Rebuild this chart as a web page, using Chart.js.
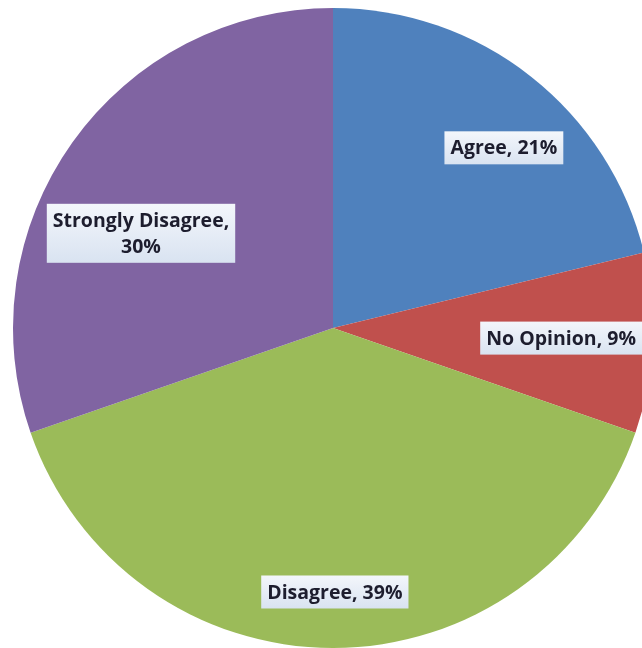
<!DOCTYPE html>
<html>
<head>
<meta charset="utf-8">
<script src="https://cdn.jsdelivr.net/npm/chart.js@4.4.1/dist/chart.umd.min.js"></script>
<style>
	html, body { margin: 0; padding: 0; background: #ffffff; overflow: hidden; }
	#wrap { width: 642px; height: 648px; overflow: hidden; position: relative; }
	#pie { position: absolute; left: 0; top: 0; }
</style>
</head>
<body>
<div id="wrap"><canvas id="pie" width="666" height="656"></canvas></div>
<script>
(() => {
	'use strict'

	// Survey answers, in drawing order (clockwise from 12 o'clock)
	const answers = ['Agree', 'No Opinion', 'Disagree', 'Strongly Disagree'];
	const shares = [21, 9, 39, 30];
	const sliceColors = ['#4f81bd', '#c0504d', '#9bbb59', '#8064a2'];

	// Where each data label sits: [fraction of radius, angle shift in degrees]
	const labelPlacement = [[0.776, 5.3], [0.716, -0.2], [0.825, -0.4], [0.669, -9.2]];

	const labelFont = 'bold 19.5px "Open Sans", sans-serif';
	const maxLabelWidth = 200;

	// Draws Excel-style label boxes on top of the slices
	const boxLabels = {
		id: 'boxLabels',
		afterDatasetsDraw(chart) {
			const ctx = chart.ctx;
			const meta = chart.getDatasetMeta(0);
			const viewW = window.innerWidth || 642;
			ctx.save();
			ctx.font = labelFont;
			ctx.textAlign = 'center';
			ctx.textBaseline = 'middle';
			meta.data.forEach((arc, i) => {
				const p = arc.getProps(['x', 'y', 'startAngle', 'endAngle', 'outerRadius'], true);
				const [frac, shift] = labelPlacement[i];
				const mid = (p.startAngle + p.endAngle) / 2 + shift * Math.PI / 180;
				let cx = p.x + Math.cos(mid) * p.outerRadius * frac;
				const cy = p.y + Math.sin(mid) * p.outerRadius * frac;

				let lines = [answers[i] + ', ' + shares[i] + '%'];
				if (ctx.measureText(lines[0]).width > maxLabelWidth) {
					lines = [answers[i] + ',', shares[i] + '%'];
				}
				const lineH = 26;
				const textW = Math.max(...lines.map(l => ctx.measureText(l).width));
				const boxW = textW + 12;
				const boxH = lines.length * lineH + 7;
				cx = Math.min(cx, viewW - boxW / 2);
				const bx = cx - boxW / 2;
				const by = cy - boxH / 2;

				const grad = ctx.createLinearGradient(0, by, 0, by + boxH);
				grad.addColorStop(0, '#f3f6fb');
				grad.addColorStop(1, '#d9e3f1');
				ctx.fillStyle = grad;
				ctx.fillRect(bx, by, boxW, boxH);

				ctx.fillStyle = '#1d1d2e';
				lines.forEach((l, k) => {
					ctx.fillText(l, cx, by + 3.5 + lineH / 2 + k * lineH + 1);
				});
			});
			ctx.restore();
		}
	};

	const pieCanvas = document.getElementById('pie');

	const dataPie = {
		labels: answers,
		datasets: [{
			data: shares,
			backgroundColor: sliceColors,
			borderWidth: 0
		}]
	};

	const configPie = {
		type: 'pie',
		data: dataPie,
		options: {
			responsive: false,
			animation: false,
			layout: {
				padding: { top: 8, bottom: 8, left: 13, right: 13 }
			},
			plugins: {
				legend: { display: false },
				title: { display: false },
				tooltip: { enabled: false }
			}
		},
		plugins: [boxLabels]
	};

	new Chart(pieCanvas, configPie);
})()
</script>
</body>
</html>
